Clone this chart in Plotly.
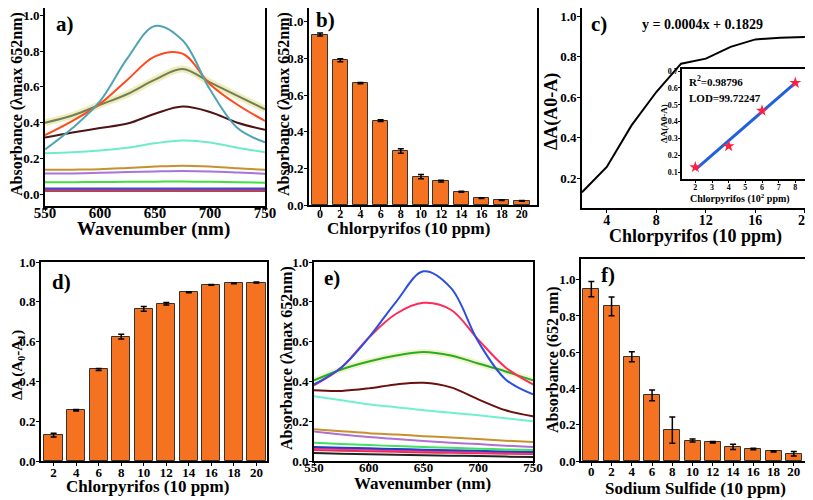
import plotly.graph_objects as go

# page offset of the plot div (default body margin)
OX, OY = 8, 8
W, H = 813, 500
FONT = "Liberation Serif"

# ---------------- data ----------------
wl = [550, 575, 600, 625, 650, 675, 700, 725, 750]

# panel a spectra
a_teal   = [0.25, 0.37, 0.52, 0.76, 0.94, 0.86, 0.585, 0.37, 0.29]
a_orange = [0.33, 0.41, 0.505, 0.64, 0.77, 0.785, 0.615, 0.50, 0.41]
a_olive  = [0.40, 0.44, 0.50, 0.56, 0.64, 0.70, 0.625, 0.55, 0.475]
a_maroon = [0.317, 0.345, 0.37, 0.395, 0.45, 0.49, 0.46, 0.40, 0.36]
a_aqua   = [0.23, 0.235, 0.245, 0.26, 0.285, 0.30, 0.29, 0.26, 0.235]
a_gold   = [0.137, 0.138, 0.14, 0.147, 0.155, 0.16, 0.155, 0.145, 0.137]
a_violet = [0.116, 0.117, 0.12, 0.125, 0.128, 0.13, 0.128, 0.122, 0.115]
a_green  = [0.067, 0.068, 0.069, 0.07, 0.071, 0.072, 0.07, 0.068, 0.065]
a_blue   = [0.033, 0.033, 0.033, 0.033, 0.033, 0.033, 0.033, 0.033, 0.032]
a_red    = [0.024, 0.024, 0.024, 0.024, 0.024, 0.024, 0.024, 0.024, 0.024]
a_dark   = [0.02, 0.02, 0.02, 0.02, 0.02, 0.02, 0.02, 0.02, 0.02]
a_series = [a_dark, a_red, a_blue, a_green, a_violet, a_gold, a_aqua, a_maroon, a_olive, a_orange, a_teal]
a_colors = ["#333333", "#FF2050", "#3050E0", "#3FE03F", "#A874D8", "#C8902E", "#6FEBCB",
            "#4E1414", "#6E7F5A", "#FF4A1C", "#4FA3B5"]

# panel e spectra
e_blue   = [0.385, 0.47, 0.62, 0.80, 0.953, 0.87, 0.60, 0.41, 0.335]
e_pink   = [0.38, 0.47, 0.62, 0.74, 0.795, 0.76, 0.61, 0.47, 0.385]
e_green  = [0.405, 0.46, 0.50, 0.53, 0.548, 0.53, 0.49, 0.45, 0.405]
e_maroon = [0.355, 0.352, 0.365, 0.385, 0.393, 0.37, 0.31, 0.255, 0.225]
e_aqua   = [0.325, 0.305, 0.285, 0.27, 0.255, 0.243, 0.23, 0.215, 0.20]
e_gold   = [0.16, 0.15, 0.14, 0.133, 0.125, 0.118, 0.11, 0.102, 0.095]
e_violet = [0.148, 0.133, 0.12, 0.11, 0.10, 0.092, 0.085, 0.077, 0.07]
e_lgreen = [0.092, 0.086, 0.08, 0.075, 0.07, 0.066, 0.062, 0.058, 0.055]
e_dblue  = [0.07, 0.067, 0.064, 0.06, 0.057, 0.054, 0.051, 0.048, 0.045]
e_mag    = [0.063, 0.06, 0.057, 0.053, 0.05, 0.047, 0.044, 0.042, 0.04]
e_red    = [0.055, 0.052, 0.049, 0.046, 0.043, 0.041, 0.039, 0.037, 0.035]
e_dark   = [0.04, 0.037, 0.034, 0.031, 0.029, 0.027, 0.025, 0.022, 0.02]
e_series = [e_dark, e_red, e_mag, e_dblue, e_lgreen, e_violet, e_gold, e_aqua, e_maroon, e_green, e_pink, e_blue]
e_colors = ["#222222", "#E0304A", "#FF3090", "#1E3FC0", "#40E060", "#B070D0", "#C8902E", "#70F0D0",
            "#6B0F0F", "#22B022", "#FF2A5A", "#2C4FE0"]

# panel b
b_x   = [0, 2, 4, 6, 8, 10, 12, 14, 16, 18, 20]
b_y   = [0.93, 0.79, 0.665, 0.46, 0.295, 0.155, 0.13, 0.072, 0.037, 0.027, 0.022]
b_err = [0.008, 0.008, 0.004, 0.005, 0.012, 0.012, 0.005, 0.003, 0.002, 0.002, 0.002]

# panel c / d
d_x   = [2, 4, 6, 8, 10, 12, 14, 16, 18, 20]
d_y   = [0.13, 0.255, 0.46, 0.625, 0.765, 0.79, 0.848, 0.885, 0.893, 0.897]
d_err = [0.01, 0.004, 0.005, 0.012, 0.012, 0.006, 0.003, 0.002, 0.002, 0.003]

# inset
in_x = [2, 4, 6, 8]
in_y = [0.13, 0.255, 0.465, 0.63]
fit_x = [2, 8]
fit_y = [0.115, 0.63]

# panel f
f_x   = [0, 2, 4, 6, 8, 10, 12, 14, 16, 18, 20]
f_y   = [0.948, 0.853, 0.575, 0.362, 0.17, 0.113, 0.103, 0.078, 0.066, 0.053, 0.04]
f_err = [0.042, 0.052, 0.027, 0.03, 0.072, 0.008, 0.004, 0.014, 0.004, 0.004, 0.012]

BAR = "#F47220"

# ---------------- figure ----------------
fig = go.Figure()

# a
fig.add_trace(go.Scatter(x=wl, y=a_olive, mode="lines", line=dict(color="rgba(238,232,170,0.8)", width=7, shape="spline"),
                         xaxis="x", yaxis="y", hoverinfo="skip"))
for s, c in zip(a_series, a_colors):
    fig.add_trace(go.Scatter(x=wl, y=s, mode="lines", line=dict(color=c, width=2, shape="spline"), xaxis="x", yaxis="y"))

# b
fig.add_trace(go.Bar(x=b_x, y=b_y, width=1.52, marker=dict(color=BAR, line=dict(color="#333", width=1)),
                     error_y=dict(type="data", array=b_err, color="black", thickness=1.5, width=3),
                     xaxis="x2", yaxis="y2"))

# c
fig.add_trace(go.Scatter(x=d_x, y=d_y, mode="lines", line=dict(color="black", width=2), xaxis="x3", yaxis="y3"))

# d
fig.add_trace(go.Bar(x=d_x, y=d_y, width=1.62, marker=dict(color=BAR, line=dict(color="#333", width=1)),
                     error_y=dict(type="data", array=d_err, color="black", thickness=1.5, width=3),
                     xaxis="x4", yaxis="y4"))

# e
fig.add_trace(go.Scatter(x=wl, y=e_green, mode="lines", line=dict(color="rgba(238,232,170,0.6)", width=6, shape="spline"),
                         xaxis="x5", yaxis="y5", hoverinfo="skip"))
for s, c in zip(e_series, e_colors):
    fig.add_trace(go.Scatter(x=wl, y=s, mode="lines", line=dict(color=c, width=2, shape="spline"), xaxis="x5", yaxis="y5"))

# f
fig.add_trace(go.Bar(x=f_x, y=f_y, width=1.58, marker=dict(color=BAR, line=dict(color="#333", width=1)),
                     error_y=dict(type="data", array=f_err, color="black", thickness=1.5, width=3),
                     xaxis="x6", yaxis="y6"))

# inset
fig.add_trace(go.Scatter(x=fit_x, y=fit_y, mode="lines", line=dict(color="#1F5FE0", width=3), xaxis="x7", yaxis="y7"))
fig.add_trace(go.Scatter(x=in_x, y=in_y, mode="markers", marker=dict(symbol="star", color="#FF2040", size=9),
                         xaxis="x7", yaxis="y7"))


def px(x):
    return (x - OX) / W


def py(y):
    return 1 - (y - OY) / H


def xd(l, r):
    return [max(0.0, px(l)), min(1.0, px(r))]


def yd(t, b):
    return [max(0.0, py(b)), min(1.0, py(t))]


def ax(domain, rng, anchor, size=13, tickvals=None, ticktext=None, ticklen=3, lw=2, standoff=0):
    d = dict(domain=domain, range=rng, anchor=anchor, showgrid=False, zeroline=False,
             showline=True, mirror=True, linecolor="black", linewidth=lw, automargin=False,
             ticks="outside", ticklen=ticklen, tickwidth=1.2, tickcolor="black",
             ticklabelstandoff=standoff, ticklabeloverflow="allow",
             tickfont=dict(family=FONT, size=size, color="black", weight="bold"))
    if tickvals is not None:
        d["tickmode"] = "array"
        d["tickvals"] = tickvals
        if ticktext is not None:
            d["ticktext"] = ticktext
    return d


yt = [0, 0.2, 0.4, 0.6, 0.8, 1.0]
ytl = ["0.0", "0.2", "0.4", "0.6", "0.8", "1.0"]

layout = dict(
    width=W, height=H, margin=dict(l=0, r=0, t=0, b=0, autoexpand=False),
    paper_bgcolor="white", plot_bgcolor="white", showlegend=False,
    bargap=0,
    xaxis=ax(xd(45, 265), [550, 750], "y", size=15, tickvals=[550, 600, 650, 700, 750], standoff=-11),
    yaxis=ax(yd(8, 206), [-0.065, 1.04], "x", size=13, tickvals=yt, ticktext=ytl, standoff=-2),
    xaxis2=ax(xd(309, 537), [-1.1, 21.5], "y2", size=12, tickvals=b_x, standoff=-6),
    yaxis2=ax(yd(8, 205), [0, 1.075], "x2", size=13, tickvals=yt, ticktext=ytl, standoff=-2),
    xaxis3=ax(xd(582, 808), [2, 20.25], "y3", size=14, tickvals=[4, 8, 12, 16, 20], standoff=-5),
    yaxis3=ax(yd(8, 208), [0.052, 1.04], "x3", size=13, tickvals=[0.2, 0.4, 0.6, 0.8, 1.0],
              ticktext=["0.2", "0.4", "0.6", "0.8", "1.0"], standoff=-2),
    xaxis4=ax(xd(41, 267), [0.88, 20.94], "y4", size=13, tickvals=d_x, standoff=-5),
    yaxis4=ax(yd(262, 461), [0, 1.0], "x4", size=13, tickvals=yt, ticktext=ytl, standoff=-2),
    xaxis5=ax(xd(314, 533), [550, 750], "y5", size=13, tickvals=[550, 600, 650, 700, 750], standoff=-10),
    yaxis5=ax(yd(262, 461), [0, 1.0], "x5", size=13, tickvals=yt, ticktext=ytl, standoff=-2),
    xaxis6=ax(xd(581, 808), [-1.02, 21.4], "y6", size=13, tickvals=f_x, standoff=-6),
    yaxis6=ax(yd(259, 461), [0, 1.114], "x6", size=13, tickvals=yt, ticktext=ytl, standoff=-2),
    xaxis7=ax(xd(682, 807), [1.2, 8.7], "y7", size=8, tickvals=[2, 3, 4, 5, 6, 7, 8], ticklen=2, lw=1.5,
              standoff=-2),
    yaxis7=ax(yd(69, 179), [0.06, 0.712], "x7", size=8,
              tickvals=[0.1, 0.2, 0.3, 0.4, 0.5, 0.6, 0.7], ticklen=2, lw=1.5, standoff=-1),
)

# white background for inset
shapes = [dict(type="rect", xref="paper", yref="paper", x0=px(682), x1=px(807), y0=py(179), y1=py(69),
               fillcolor="white", line=dict(width=0), layer="below")]
layout["shapes"] = shapes


def ann(text, x, y, size, angle=0, xanchor="center"):
    return dict(text=text, x=px(x), y=py(y), xref="paper", yref="paper", showarrow=False,
                textangle=angle, xanchor=xanchor, yanchor="middle",
                font=dict(family=FONT, size=size, color="black", weight="bold"))


anns = [
    # panel labels
    ann("a)", 54, 24, 21, xanchor="left"),
    ann("b)", 314, 20, 21, xanchor="left"),
    ann("c)", 589, 24, 21, xanchor="left"),
    ann("d)", 50, 282, 21, xanchor="left"),
    ann("e)", 322, 278, 21, xanchor="left"),
    ann("f)", 599, 275, 21, xanchor="left"),
    # axis titles
    ann("Wavenumber (nm)", 153, 229, 19),
    ann("Absorbance (λmax 652nm)", 17, 104, 16, angle=-90),
    ann("Chlorpyrifos (10 ppm)", 408, 229, 17),
    ann("Absorbance (λmax 652nm)", 284, 104, 16, angle=-90),
    ann("Chlorpyrifos (10 ppm)", 695, 237, 18),
    ann("ΔA(A0-A)", 552, 112, 18, angle=-90),
    ann("y = 0.0004x + 0.1829", 702, 24, 14),
    ann("Chlorpyrifos (10 ppm)", 147, 486, 17),
    ann("ΔA (A<sub>0</sub>-A<sub>1</sub>)", 18, 365, 15, angle=-90),
    ann("Wavenumber (nm)", 422, 483, 17),
    ann("Absorbance (λmax 652nm)", 287, 358, 16, angle=-90),
    ann("Sodium Sulfide (10 ppm)", 695, 488, 17),
    ann("Absorbance (652 nm)", 553, 360, 16, angle=-90),
    # inset texts
    ann("R<sup>2</sup>=0.98796", 687, 81, 11, xanchor="left"),
    ann("LOD=99.72247", 687, 98, 11, xanchor="left"),
    ann("ΔA(A0-A)", 664, 124, 9, angle=-90),
    ann("Chlorpyrifos (10<sup>2</sup> ppm)", 740, 198, 10),
]
layout["annotations"] = anns

fig.update_layout(**layout)
fig.write_html("out.html")
